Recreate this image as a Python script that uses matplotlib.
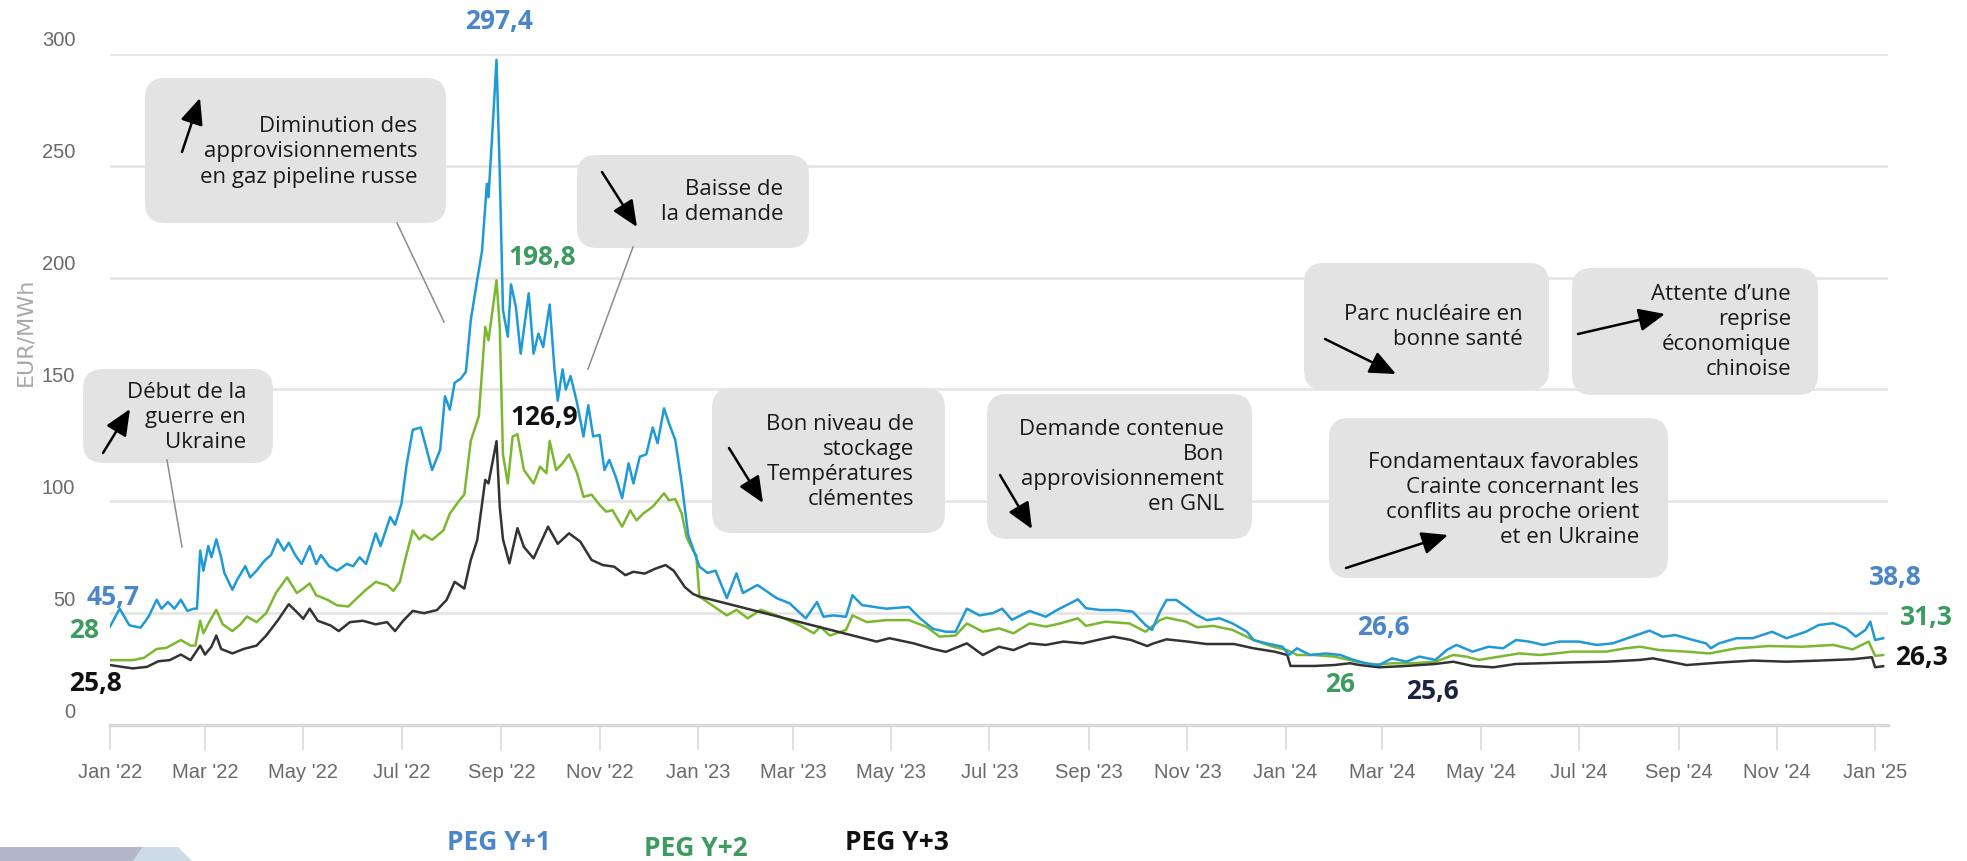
import numpy as np
import matplotlib
matplotlib.use("Agg")
import matplotlib.pyplot as plt
import matplotlib.dates as mdates
from matplotlib import transforms, font_manager
from matplotlib.patches import FancyBboxPatch, Polygon

## forward prices PEG, (days since 2022-01-01, EUR/MWh)
peg_y1 = [(0, 44), (6, 52), (12, 44.6), (19, 43.5), (24, 48.5), (29, 56), (32, 52), (36, 55), (40, 52),
          (44, 56), (48, 51), (52, 52), (54, 52), (56, 78), (58, 69), (61, 80), (63, 75), (66, 83), (69, 75),
          (71, 68), (76, 60.5), (79, 65), (84, 71), (87, 66), (91, 69), (96, 73.5), (100, 76), (104, 83),
          (108, 78), (111, 81.5), (115, 76), (119, 72), (124, 80), (128, 72), (131, 76), (136, 71), (141, 69),
          (147, 72), (151, 71), (155, 75), (159, 72), (165, 85.7), (168, 80), (174, 93), (177, 89.5), (181, 99),
          (184, 115.5), (188, 132), (193, 133), (200, 114), (205, 123), (208, 147), (211, 141), (214, 153),
          (218, 155), (221, 158), (224, 181), (228, 199), (231, 212), (234, 242), (235, 236), (237, 260),
          (240, 297.4), (242, 247), (244, 185.5), (247, 173.6), (249, 197), (252, 187), (255, 166), (260, 193),
          (263, 166), (266, 175), (269, 169), (273, 188), (276, 159), (278, 145), (281, 159), (283, 150),
          (286, 156), (290, 144), (294, 129), (297, 143), (300, 129), (304, 129.7), (307, 114), (310, 118.5),
          (314, 111), (318, 101.4), (322, 117), (325, 108), (329, 120), (333, 121), (337, 133), (340, 126),
          (344, 141.6), (347, 135), (351, 127.4), (355, 108), (359, 85), (366, 70.8), (371, 68), (376, 69),
          (383, 56.7), (389, 67.8), (393, 59), (402, 62.6), (414, 56.7), (422, 54.4), (432, 47.7), (439, 55),
          (443, 48.4), (449, 49), (457, 48.4), (461, 58), (467, 53.6), (482, 52), (496, 52.8), (503, 47.7),
          (511, 43), (519, 41.7), (525, 41.7), (532, 52), (540, 49), (548, 50), (554, 52), (560, 47), (571, 51),
          (581, 48.4), (588, 51.4), (594, 53.6), (601, 56.2), (606, 52.2), (615, 51.4), (625, 51.4), (635, 50.7),
          (643, 44.7), (647, 42.5), (652, 50.7), (656, 55.9), (662, 55.9), (668, 52.9), (675, 49.2), (681, 46.9),
          (689, 47.7), (697, 45.4), (706, 41.7), (710, 38), (718, 36.5), (728, 35), (732, 31.3), (737, 34.3),
          (745, 31.3), (755, 32), (764, 31.3), (772, 29.1), (780, 27.6), (788, 26.8), (796, 29.8), (805, 28.3),
          (813, 30.6), (823, 29.1), (830, 33.5), (836, 35.8), (846, 32.8), (856, 35), (865, 34.3), (873, 38),
          (881, 37.3), (890, 35.8), (900, 37.3), (912, 37.3), (923, 35.8), (933, 36.5), (945, 39.5), (956, 42.2),
          (964, 39.5), (972, 40.2), (983, 38), (991, 36.5), (994, 34.3), (999, 36.5), (1010, 38.8), (1020, 38.8),
          (1032, 41.7), (1041, 38.8), (1053, 41.7), (1061, 44.7), (1070, 45.5), (1078, 43.2), (1084, 39.5),
          (1090, 42.5), (1093, 46.2), (1096, 38), (1101, 38.8)]

peg_y2 = [(0, 29), (14, 29), (21, 30), (29, 34), (35, 34.5), (44, 38), (50, 35.5), (53, 35.5), (56, 46.6),
          (58, 41), (62, 46.6), (66, 51.5), (70, 45), (76, 42), (81, 45), (85, 48.5), (91, 46), (97, 50),
          (103, 59), (110, 66), (116, 59), (120, 61), (124, 63.3), (128, 58), (135, 56), (141, 53.5), (148, 53),
          (153, 56.5), (159, 60.5), (165, 64), (172, 62.5), (176, 60), (180, 64), (184, 76), (188, 87), (192, 83),
          (195, 85), (200, 82.8), (207, 87), (211, 94.5), (217, 100.5), (220, 103), (224, 127), (229, 138),
          (233, 178), (235, 172), (240, 198.8), (242, 178), (244, 121), (247, 108), (250, 129), (253, 130),
          (257, 114), (263, 108), (267, 115.5), (271, 112.6), (273, 127), (277, 114), (281, 117), (285, 121),
          (290, 112.6), (294, 102), (299, 103), (304, 98.4), (308, 95.4), (312, 96), (318, 88.7), (323, 96),
          (327, 91.5), (331, 94.5), (337, 97.6), (344, 103.6), (347, 100.5), (351, 101), (355, 94.5), (358, 84),
          (362, 78), (364, 76), (366, 57.4), (383, 49), (389, 51.5), (396, 47.7), (404, 51.5), (414, 49),
          (428, 44.7), (437, 41), (441, 43.9), (447, 40), (457, 42.5), (461, 49), (470, 46), (482, 46.9),
          (496, 46.9), (507, 43.9), (515, 39.5), (525, 40), (532, 45.4), (542, 41.7), (552, 43.2), (561, 41),
          (571, 45.4), (581, 44), (590, 45.4), (601, 47.7), (606, 44.3), (618, 46.2), (633, 45.4), (643, 41.7),
          (652, 46.9), (656, 48), (668, 46.2), (675, 43.7), (685, 44.3), (697, 42.5), (710, 38), (722, 35),
          (731, 33.5), (737, 31.3), (747, 31.3), (760, 30.6), (770, 29), (784, 26.8), (796, 27.6), (809, 27.6),
          (823, 28.3), (834, 31.3), (842, 30.6), (850, 29.1), (863, 30.6), (875, 32), (888, 31.3), (908, 32.8),
          (929, 32.8), (941, 34.3), (950, 35), (962, 33.5), (979, 32.8), (993, 32), (1010, 34.3), (1030, 35.3),
          (1051, 35), (1070, 35.8), (1082, 33.8), (1092, 37.3), (1096, 30.9), (1101, 31.3)]

peg_y3 = [(0, 26.8), (14, 25.3), (23, 26), (30, 28.5), (37, 29), (44, 31.5), (50, 29), (56, 35.5), (59, 31.5),
          (63, 35), (66, 40), (69, 34), (76, 32), (83, 34), (91, 35.5), (97, 40), (104, 46.6), (111, 54),
          (116, 50.5), (120, 47.5), (124, 52), (129, 46.6), (137, 44.5), (142, 42), (149, 46), (157, 46.6),
          (165, 45), (172, 46), (177, 42), (182, 46.6), (188, 51), (195, 50), (203, 51.4), (209, 55.9), (214, 64),
          (220, 61), (224, 73.8), (228, 82.6), (233, 109.6), (235, 108), (240, 126.9), (242, 97.6), (244, 83),
          (248, 72.3), (253, 88), (257, 79.6), (263, 74.5), (272, 88.7), (278, 81), (285, 85.7), (292, 82),
          (299, 73.8), (306, 71.5), (313, 70.8), (320, 67), (325, 68.5), (332, 67.7), (339, 70), (345, 71.5),
          (350, 69), (357, 61.6), (362, 58.6), (366, 57.4), (476, 37.3), (484, 38.8), (499, 36.5), (511, 34),
          (519, 32.7), (532, 36.5), (542, 31.3), (552, 35), (561, 33.5), (571, 36.5), (581, 35.8), (592, 37.3),
          (604, 36.5), (615, 38.3), (623, 39.5), (634, 38), (644, 35.3), (648, 36.5), (656, 38.3), (669, 37.3),
          (681, 36.2), (698, 36.2), (710, 34.3), (723, 32.8), (731, 31.3), (733, 26.4), (748, 26.4), (760, 26.8),
          (770, 27.6), (776, 26.8), (788, 25.8), (805, 26.4), (823, 27.3), (834, 28.3), (846, 26.4), (859, 25.8),
          (873, 27.3), (888, 27.6), (908, 28), (929, 28.3), (950, 29.1), (958, 29.8), (979, 26.8), (999, 27.9),
          (1020, 28.8), (1041, 28.3), (1061, 28.8), (1082, 29.4), (1094, 30.3), (1096, 25.8), (1101, 26.3)]

## values written on the chart
labels_y1 = [45.7, 297.4, 26.6, 38.8]
labels_y2 = [28, 198.8, 26, 31.3]
labels_y3 = [25.8, 126.9, 25.6, 26.3]
series_names = ["PEG Y+1", "PEG Y+2", "PEG Y+3"]

notes = ["Début de la\nguerre en\nUkraine",
         "Diminution des\napprovisionnements\nen gaz pipeline russe",
         "Baisse de\nla demande",
         "Bon niveau de\nstockage\nTempératures\nclémentes",
         "Demande contenue\nBon\napprovisionnement\nen GNL",
         "Parc nucléaire en\nbonne santé",
         "Attente d’une\nreprise\néconomique\nchinoise",
         "Fondamentaux favorables\nCrainte concernant les\nconflits au proche orient\net en Ukraine"]

installed = {f.name for f in font_manager.fontManager.ttflist}
axis_font = "Liberation Sans Narrow" if "Liberation Sans Narrow" in installed else "Liberation Sans"
axis_size = 16 if axis_font == "Liberation Sans Narrow" else 14.5
text_font = "Open Sans"

W, H = 1967, 861
fig = plt.figure(figsize=(W / 100, H / 100), dpi=100)
ax = fig.add_axes([110 / W, 1 - 725 / H, 1778 / W, 671 / H])

start = np.datetime64("2022-01-01")


def unpack(points):
    days, vals = zip(*points)
    return start + np.array(days).astype("timedelta64[D]"), np.array(vals)


line_cols = ["#1f9ad6", "#7cb82f", "#333333"]
for pts, col, z in [(peg_y2, line_cols[1], 3), (peg_y3, line_cols[2], 4), (peg_y1, line_cols[0], 5)]:
    d, v = unpack(pts)
    ax.plot(d, v, color=col, lw=1.8, zorder=z)

ax.set_xlim(start, start + np.timedelta64(1104, "D"))
ax.set_ylim(0, 300)
ax.set_yticks(range(0, 301, 50))
ax.xaxis.set_major_locator(mdates.MonthLocator(bymonth=[1, 3, 5, 7, 9, 11]))
ax.xaxis.set_major_formatter(mdates.DateFormatter("%b '%y"))

for s in ["top", "right", "left"]:
    ax.spines[s].set_visible(False)
ax.spines["bottom"].set_color("#d9d9d9")
ax.spines["bottom"].set_linewidth(2.5)
ax.set_axisbelow(True)
ax.yaxis.grid(True, color="#e6e6e6", lw=2)

ax.tick_params(axis="x", length=18, width=1.2, color="#d9d9d9", pad=9, labelsize=axis_size,
               labelcolor="#6a6a6a")
ax.tick_params(axis="y", length=0, pad=25, labelsize=axis_size, labelcolor="#6a6a6a")
for lab in ax.get_xticklabels() + ax.get_yticklabels():
    lab.set_family(axis_font)
## y labels sit a bit above their grid line
off = transforms.ScaledTranslation(0, 0.15, fig.dpi_scale_trans)
for lab in ax.get_yticklabels():
    lab.set_transform(lab.get_transform() + off)

## overlay in pixel coordinates for boxes, arrows and labels
ov = fig.add_axes([0, 0, 1, 1])
ov.set_xlim(0, W)
ov.set_ylim(H, 0)
ov.axis("off")

ov.text(25, 332, "EUR/MWh", rotation=90, ha="center", va="center", fontsize=16,
        color="#a8a8a8", family="DejaVu Sans")

## box: (x0, y0, x1, y1), text right edge, text centre y, arrow, leader line
boxes = [((83, 369, 273, 463), 246, 418, (103, 453, 130, 409), (167, 460, 182, 547)),
         ((145, 78, 446, 223), 417, 152, (182, 152, 200, 98), (397, 223, 444, 322)),
         ((577, 155, 809, 248), 783, 202, (602, 172, 637, 227), (633, 247, 588, 369)),
         ((712, 388, 945, 533), 914, 462, (729, 448, 763, 503), None),
         ((987, 394, 1252, 539), 1224, 467, (1000, 475, 1032, 529), None),
         ((1304, 263, 1549, 390), 1523, 327, (1325, 339, 1396, 374), None),
         ((1572, 268, 1818, 395), 1791, 332, (1578, 334, 1665, 314), None),
         ((1329, 418, 1668, 578), 1639, 500, (1346, 568, 1448, 535), None)]

for txt, (b, tx, ty, arr, lead) in zip(notes, boxes):
    ov.add_patch(FancyBboxPatch((b[0], b[1]), b[2] - b[0], b[3] - b[1],
                                boxstyle="round,pad=0,rounding_size=20", fc="#e3e3e3", ec="none"))
    ov.text(tx, ty, txt, ha="right", va="center", multialignment="right", fontsize=16,
            linespacing=1.25, family=text_font, color="#1a1a1a")
    ov.annotate("", xy=(arr[2], arr[3]), xytext=(arr[0], arr[1]),
                arrowprops=dict(arrowstyle="-|>,head_length=0.8,head_width=0.35", color="black",
                                lw=1.8, mutation_scale=20, shrinkA=0, shrinkB=0))
    if lead:
        ov.plot([lead[0], lead[2]], [lead[1], lead[3]], color="#8c8c8c", lw=1.1)

blue_lab, green_lab, black_lab = "#4a86c8", "#3e9b5f", "#111111"


def fmt(v):
    return f"{v:g}".replace(".", ",")


label_pos = [(labels_y1, blue_lab, [(113, 597), (499, 21), (1383, 628), (1895, 577)]),
             (labels_y2, green_lab, [(84, 630), (542, 257), (1340, 685), (1926, 617)]),
             (labels_y3, black_lab, [(95, 684), (544, 418), (1432, 692), (1921, 658)])]
for vals, col, pos in label_pos:
    for i, (v, (x, y)) in enumerate(zip(vals, pos)):
        c = "#1c2340" if (col == black_lab and i == 2) else col
        ov.text(x, y, fmt(v), ha="center", va="center", fontsize=19, weight="bold",
                family=text_font, color=c)

## legend at the bottom
for name, col, (x, y) in zip(series_names, [blue_lab, green_lab, black_lab],
                             [(499, 843), (696, 848), (897, 843)]):
    ov.text(x, y, name, ha="center", va="center", fontsize=19, weight="bold", family=text_font, color=col)

## decoration bottom left
ov.add_patch(Polygon([(0, 847), (143, 847), (133, 861), (0, 861)], closed=True, fc="#b4b7c9", ec="none"))
ov.add_patch(Polygon([(143, 847), (178, 847), (192, 861), (133, 861)], closed=True, fc="#cddbe8", ec="none"))

fig.savefig("out.png", dpi=100)
